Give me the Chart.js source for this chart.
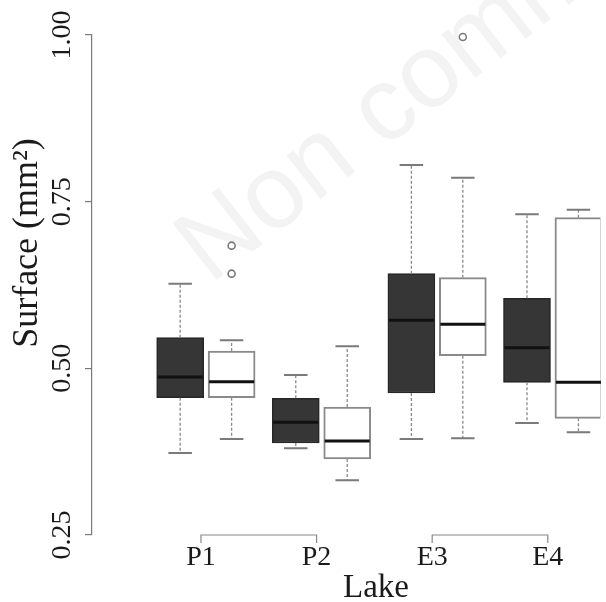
<!DOCTYPE html>
<html><head><meta charset="utf-8">
<script src="https://cdn.jsdelivr.net/npm/chart.js@4/dist/chart.umd.min.js"></script>
<style>html,body{margin:0;padding:0;background:#fff;overflow:hidden}#wrap{width:606px;height:602px;position:relative}</style>
</head><body><div id="wrap"><canvas id="c"></canvas></div>
<script>
// ---- data ----
const categories = ['P1', 'P2', 'E3', 'E4'];
const darkLow    = [0.373, 0.380, 0.394, 0.418];
const darkQ1     = [0.456, 0.388, 0.463, 0.479];
const darkMedian = [0.487, 0.419, 0.572, 0.531];
const darkQ3     = [0.546, 0.455, 0.642, 0.605];
const darkHigh   = [0.627, 0.490, 0.805, 0.731];
const darkOutliers = [[], [], [], []];
const whiteLow    = [0.394, 0.332, 0.395, 0.404];
const whiteQ1     = [0.456, 0.364, 0.519, 0.425];
const whiteMedian = [0.480, 0.391, 0.566, 0.479];
const whiteQ3     = [0.526, 0.442, 0.636, 0.726];
const whiteHigh   = [0.542, 0.533, 0.786, 0.738];
const whiteOutliers = [[0.642, 0.684], [], [0.997], []];
const yTicks = [0.25, 0.50, 0.75, 1.00];
const yAxisTitle = 'Surface (mm²)';
const xAxisTitle = 'Lake';
const watermarkText = 'Non commercial';

// ---- layout / style ----
const DARK_OFF = -0.18, WHITE_OFF = 0.265;
const SERIF = '"Liberation Serif", "Times New Roman", serif';
const groups = [
  {off: DARK_OFF, low: darkLow, q1: darkQ1, med: darkMedian, q3: darkQ3, high: darkHigh, out: darkOutliers, ds: 0},
  {off: WHITE_OFF, low: whiteLow, q1: whiteQ1, med: whiteMedian, q3: whiteQ3, high: whiteHigh, out: whiteOutliers, ds: 1}
];

function boxData(g) {
  return categories.map((c, i) => ({x: i + 1 + g.off, y: [g.q1[i], g.q3[i]]}));
}
function outlierData() {
  const pts = [];
  groups.forEach(g => g.out.forEach((arr, i) => arr.forEach(v => pts.push({x: i + 1 + g.off, y: v}))));
  return pts;
}

const extras = {
  id: 'boxExtras',
  beforeDatasetsDraw(chart) {
    const ctx = chart.ctx;
    ctx.save();
    ctx.translate(210, 285);
    ctx.rotate(-38 * Math.PI / 180);
    ctx.font = '104px "Liberation Sans", Arial, sans-serif';
    ctx.fillStyle = '#f3f3f3';
    ctx.textBaseline = 'alphabetic';
    ctx.fillText(watermarkText, 0, 0);
    ctx.restore();
  },
  afterDatasetsDraw(chart) {
    const ctx = chart.ctx, xs = chart.scales.x, ys = chart.scales.y;
    ctx.save();
    groups.forEach(g => {
      const meta = chart.getDatasetMeta(g.ds);
      categories.forEach((c, i) => {
        const cx = xs.getPixelForValue(i + 1 + g.off);
        const w = meta.data[i].width;
        const cap = w / 4;
        // whiskers
        ctx.strokeStyle = '#8a8a8a';
        ctx.lineWidth = 1.3;
        ctx.setLineDash([3, 2]);
        ctx.beginPath();
        ctx.moveTo(cx, ys.getPixelForValue(g.q3[i]));
        ctx.lineTo(cx, ys.getPixelForValue(g.high[i]));
        ctx.moveTo(cx, ys.getPixelForValue(g.q1[i]));
        ctx.lineTo(cx, ys.getPixelForValue(g.low[i]));
        ctx.stroke();
        ctx.setLineDash([]);
        ctx.lineWidth = 2;
        ctx.strokeStyle = '#7a7a7a';
        ctx.beginPath();
        ctx.moveTo(cx - cap, ys.getPixelForValue(g.high[i]));
        ctx.lineTo(cx + cap, ys.getPixelForValue(g.high[i]));
        ctx.moveTo(cx - cap, ys.getPixelForValue(g.low[i]));
        ctx.lineTo(cx + cap, ys.getPixelForValue(g.low[i]));
        ctx.stroke();
        // median
        ctx.strokeStyle = '#111';
        ctx.lineWidth = 3;
        ctx.beginPath();
        const my = ys.getPixelForValue(g.med[i]);
        ctx.moveTo(cx - w / 2 + 1, my);
        ctx.lineTo(cx + w / 2 - 1, my);
        ctx.stroke();
      });
    });
    ctx.restore();
  },
  afterDraw(chart) {
    const ctx = chart.ctx, xs = chart.scales.x;
    const base = chart.chartArea.bottom;
    ctx.save();
    // brackets (x axis segments)
    ctx.strokeStyle = '#888';
    ctx.lineWidth = 1.2;
    [[0, 1], [2, 3]].forEach(([a, b]) => {
      const xa = xs.getPixelForValue(a + 1), xb = xs.getPixelForValue(b + 1);
      ctx.beginPath();
      ctx.moveTo(xa, base + 8); ctx.lineTo(xa, base); ctx.lineTo(xb, base); ctx.lineTo(xb, base + 8);
      ctx.stroke();
    });
    // axis titles
    ctx.fillStyle = '#1a1a1a';
    ctx.font = '36px ' + SERIF;
    ctx.textAlign = 'center';
    ctx.textBaseline = 'middle';
    ctx.save();
    ctx.translate(28, 243);
    ctx.rotate(-Math.PI / 2);
    ctx.fillText(yAxisTitle, 0, 0);
    ctx.restore();
    ctx.font = '33px ' + SERIF;
    ctx.textBaseline = 'alphabetic';
    ctx.fillText(xAxisTitle, 376, 597);
    ctx.restore();
  }
};

new Chart(document.getElementById('c'), {
  type: 'bar',
  data: {
    datasets: [
      {label: 'dark', data: boxData(groups[0]), backgroundColor: '#363636', borderColor: '#262626', borderWidth: 1.5,
       borderSkipped: false, grouped: false, categoryPercentage: 1, barPercentage: 1, maxBarThickness: 47},
      {label: 'white', data: boxData(groups[1]), backgroundColor: '#ffffff', borderColor: '#8a8a8a', borderWidth: 2,
       borderSkipped: false, grouped: false, categoryPercentage: 1, barPercentage: 1, maxBarThickness: 47},
      {type: 'scatter', label: 'outliers', data: outlierData(), pointRadius: 3.5, pointStyle: 'circle',
       borderColor: '#7a7a7a', borderWidth: 1.6, backgroundColor: 'rgba(0,0,0,0)', clip: false}
    ]
  },
  options: {
    responsive: true, maintainAspectRatio: false, animation: false,
    layout: {padding: {top: 35, bottom: 0, left: 0, right: 0}},
    plugins: {legend: {display: false}, tooltip: {enabled: false}},
    scales: {
      x: {
        type: 'linear', min: 0.0574, max: 4.455, offset: false, bounds: 'data',
        grid: {display: false, drawTicks: false}, border: {display: false},
        afterBuildTicks: s => { s.ticks = categories.map((c, i) => ({value: i + 1})); },
        ticks: {autoSkip: false, maxRotation: 0, padding: 6, color: '#1a1a1a',
                font: {family: SERIF, size: 28}, callback: v => categories[Math.round(v) - 1]},
        afterFit: s => { s.height = 67; }
      },
      y: {
        min: 0.25, max: 1.0,
        afterBuildTicks: s => { s.ticks = yTicks.map(v => ({value: v})); },
        border: {display: true, color: '#7a7a7a', width: 1.2},
        grid: {drawOnChartArea: false, drawTicks: true, tickLength: 7, color: '#7a7a7a', lineWidth: 1.2},
        ticks: {minRotation: 90, maxRotation: 90, crossAlign: 'center', padding: -2, color: '#1a1a1a',
                font: {family: SERIF, size: 28}, callback: v => Number(v).toFixed(2)},
        afterFit: s => { s.width = 92; }
      }
    }
  },
  plugins: [extras]
});
</script>
</body></html>
